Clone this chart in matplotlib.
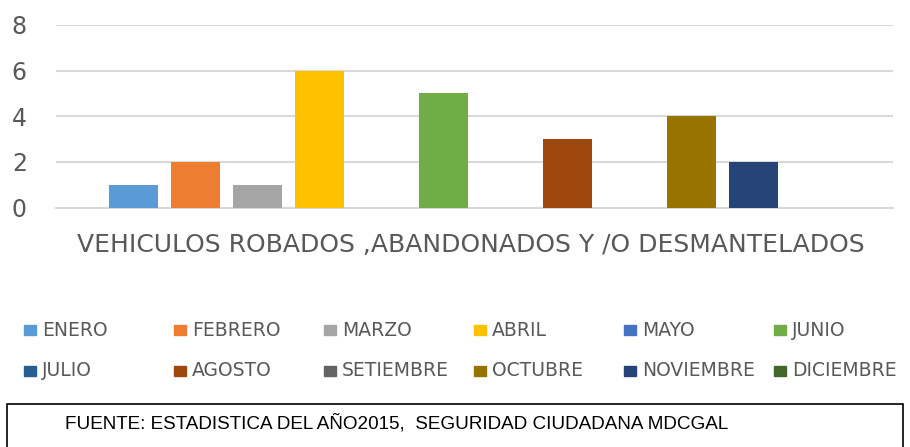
import matplotlib
matplotlib.use("Agg")
import matplotlib.pyplot as plt
from matplotlib.patches import Rectangle

# Data
months = ["ENERO", "FEBRERO", "MARZO", "ABRIL", "MAYO", "JUNIO",
          "JULIO", "AGOSTO", "SETIEMBRE", "OCTUBRE", "NOVIEMBRE", "DICIEMBRE"]
values = [1, 2, 1, 6, 0, 5, 0, 3, 0, 4, 2, 0]
colors = ["#5B9BD5", "#ED7D31", "#A5A5A5", "#FFC000", "#4472C4", "#70AD47",
          "#255E91", "#9E480E", "#636363", "#997300", "#264478", "#43682B"]
category = "VEHICULOS ROBADOS ,ABANDONADOS Y /O DESMANTELADOS"
source = "FUENTE: ESTADISTICA DEL AÑO2015,  SEGURIDAD CIUDADANA MDCGAL"

W, H = 910, 447
fig = plt.figure(figsize=(W / 100, H / 100), dpi=100)
txt = "#595959"
grid = "#D9D9D9"

# plot area in pixels
x0, x1, ytop, ybot = 56, 893, 25, 207.5
ax = fig.add_axes([x0 / W, 1 - ybot / H, (x1 - x0) / W, (ybot - ytop) / H])

pos = list(range(len(months)))
ax.bar(pos, values, width=0.8, color=colors, zorder=3)
ax.set_xlim(-1.25, 11.25 + 1)
ax.set_ylim(0, 8)
ax.set_yticks([0, 2, 4, 6, 8])
ax.set_xticks([])
ax.grid(axis="y", color=grid, linewidth=1.5, zorder=0)
for s in ["top", "right", "left"]:
    ax.spines[s].set_visible(False)
ax.spines["bottom"].set_color(grid)
ax.spines["bottom"].set_linewidth(1.5)
ax.tick_params(axis="y", length=0, pad=21, labelsize=17, labelcolor=txt)

fig.text(471 / W, 1 - 245 / H, category, ha="center", va="center",
         fontsize=18, color=txt)

# legend, 6 columns x 2 rows
for i, (m, c) in enumerate(zip(months, colors)):
    col, row = i % 6, i // 6
    lx = 24 + col * 150
    ly = 330 + row * 41
    fig.add_artist(Rectangle((lx / W, 1 - (ly + 5) / H), 12 / W, 10 / H,
                             transform=fig.transFigure, color=c))
    fig.text((lx + 18) / W, 1 - ly / H, m, ha="left", va="center",
             fontsize=13.5, color=txt)

# source box
fig.add_artist(Rectangle((7 / W, -0.05), 896 / W, 1 - 404 / H + 0.05,
                         transform=fig.transFigure, fill=False,
                         edgecolor="black", linewidth=1.2))
fig.text(65 / W, 1 - 423 / H, source, ha="left", va="center",
         fontsize=13.6, color="black", family="Liberation Sans")

fig.savefig("out.png", dpi=100)
